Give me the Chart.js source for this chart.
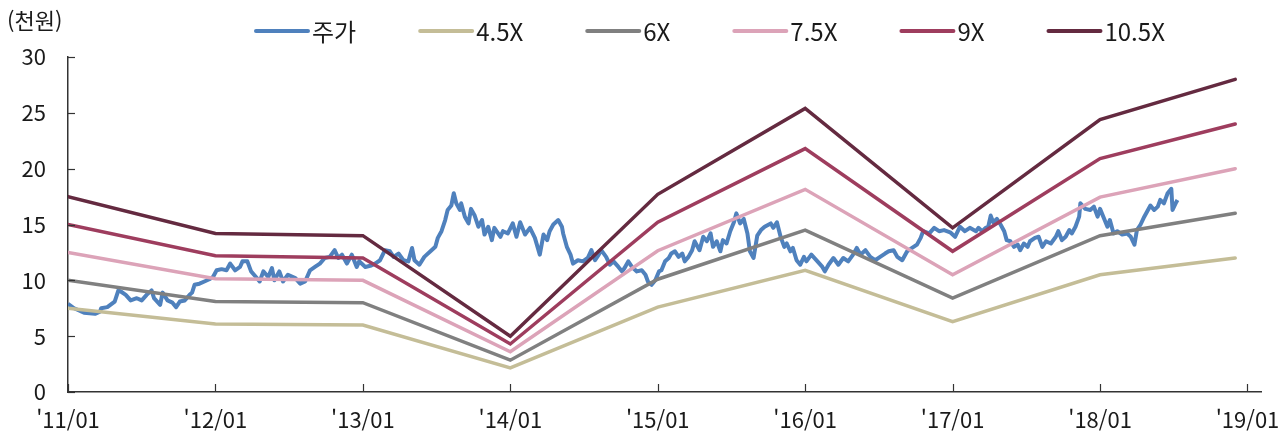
<!DOCTYPE html>
<html lang="ko">
<head>
<meta charset="utf-8">
<title>PER Band</title>
<script src="https://cdn.jsdelivr.net/npm/chart.js@4.4.1/dist/chart.umd.min.js"></script>
<style>
  html, body { margin: 0; padding: 0; background: #fff; }
  #wrap { width: 1285px; height: 438px; }
</style>
</head>
<body>
<div id="wrap"><canvas id="perChart" width="1285" height="438"></canvas></div>
<script>
// x값은 2011/01 기준 경과 개월 수
const tickMonths = [0, 12, 24, 36, 48, 60, 72, 84, 96];
const tickLabels = ["'11/01", "'12/01", "'13/01", "'14/01", "'15/01", "'16/01", "'17/01", "'18/01", "'19/01"];

// 주가 (천원)
const priceMonths = [
  0, 0.5, 1.3, 2.2, 2.6, 2.7, 3.2, 3.8, 4.1, 4.3,
  4.7, 5.1, 5.6, 6.0, 6.4, 6.8, 7.0, 7.5, 7.7, 8.1,
  8.5, 8.8, 9.1, 9.5, 9.9, 10.1, 10.3, 10.7, 11.1, 11.5,
  11.8, 12.1, 12.5, 12.9, 13.2, 13.6, 14.0, 14.2, 14.6, 14.9,
  15.3, 15.6, 15.9, 16.3, 16.6, 16.8, 17.2, 17.5, 17.9, 18.5,
  18.9, 19.3, 19.7, 20.1, 20.5, 20.9, 21.3, 21.7, 22.0, 22.3,
  22.7, 23.1, 23.5, 23.7, 24.2, 24.6, 25.0, 25.4, 25.8, 26.2,
  26.5, 26.9, 27.3, 27.7, 28.0, 28.2, 28.6, 29.0, 29.5, 29.9,
  30.1, 30.4, 30.7, 30.9, 31.2, 31.4, 31.6, 31.9, 32.0, 32.3,
  32.6, 32.8, 33.1, 33.4, 33.7, 33.9, 34.2, 34.5, 34.7, 35.2,
  35.4, 35.8, 36.2, 36.5, 36.8, 37.2, 37.6, 38.0, 38.4, 38.7,
  39.0, 39.2, 39.5, 39.9, 40.2, 40.3, 40.6, 40.9, 41.1, 41.5,
  41.9, 42.3, 42.6, 42.9, 43.2, 43.4, 43.8, 44.1, 44.4, 44.8,
  45.1, 45.3, 45.6, 45.9, 46.3, 46.7, 47.0, 47.2, 47.5, 47.8,
  48.1, 48.3, 48.6, 48.9, 49.1, 49.4, 49.7, 50.0, 50.2, 50.5,
  50.8, 51.0, 51.4, 51.7, 52.0, 52.3, 52.5, 52.8, 53.1, 53.3,
  53.6, 53.9, 54.2, 54.4, 54.7, 55.0, 55.3, 55.5, 55.8, 56.1,
  56.4, 56.7, 57.2, 57.4, 57.7, 58.0, 58.3, 58.5, 58.8, 59.0,
  59.3, 59.6, 59.9, 60.1, 60.5, 61.0, 61.4, 61.6, 61.9, 62.3,
  62.7, 63.1, 63.5, 63.9, 64.2, 64.5, 64.9, 65.3, 65.7, 66.1,
  66.5, 66.8, 67.2, 67.5, 67.9, 68.3, 68.7, 69.1, 69.4, 69.6,
  70.1, 70.5, 70.9, 71.3, 71.8, 72.2, 72.6, 73.0, 73.4, 73.9,
  74.1, 74.4, 74.7, 74.9, 75.1, 75.3, 75.6, 75.9, 76.2, 76.4,
  76.7, 77.0, 77.3, 77.5, 77.8, 78.1, 78.3, 78.7, 79.0, 79.3,
  79.6, 80.0, 80.4, 80.6, 80.9, 81.2, 81.5, 81.7, 82.0, 82.3,
  82.4, 82.8, 83.2, 83.5, 83.8, 84.0, 84.3, 84.6, 84.8, 85.1,
  85.4, 85.8, 86.2, 86.5, 86.8, 87.0, 87.3, 87.6, 87.8, 88.1,
  88.4, 88.7, 88.9, 89.2, 89.5, 89.8, 89.9, 90.2, 90.3
];
const priceValues = [
  7.9, 7.5, 7.1, 7.0, 7.2, 7.5, 7.6, 8.1, 9.1, 9.0,
  8.7, 8.2, 8.4, 8.2, 8.7, 9.1, 8.4, 7.8, 8.9, 8.2,
  8.0, 7.6, 8.1, 8.2, 8.7, 8.9, 9.6, 9.7, 9.9, 10.1,
  10.3, 10.9, 11.0, 10.9, 11.5, 10.9, 11.2, 11.7, 11.7, 10.8,
  10.3, 9.9, 10.8, 10.3, 11.1, 10.0, 10.8, 9.9, 10.5, 10.2,
  9.7, 9.9, 10.9, 11.2, 11.5, 12.0, 12.1, 12.7, 12.0, 12.3,
  11.5, 12.3, 11.2, 11.7, 11.2, 11.3, 11.5, 11.8, 12.7, 12.6,
  12.1, 12.4, 11.8, 11.7, 12.9, 11.8, 11.4, 12.1, 12.6, 13.0,
  13.8, 14.4, 15.4, 16.3, 16.7, 17.8, 16.9, 16.3, 16.9, 15.7,
  15.1, 16.4, 15.8, 14.8, 15.4, 14.1, 14.8, 13.6, 14.7, 13.9,
  14.4, 14.2, 15.1, 13.9, 15.2, 14.1, 14.7, 13.8, 12.3, 14.1,
  13.6, 14.4, 15.0, 15.4, 14.8, 14.2, 13.0, 12.3, 11.5, 11.8,
  11.7, 12.0, 12.7, 11.8, 12.3, 12.7, 12.1, 11.4, 11.7, 11.2,
  10.8, 11.1, 11.7, 11.2, 10.8, 10.9, 10.5, 9.9, 9.6, 10.0,
  10.8, 10.9, 11.7, 12.0, 12.4, 12.6, 12.1, 12.4, 11.7, 12.1,
  12.7, 13.5, 12.7, 13.9, 13.5, 14.2, 13.0, 13.5, 12.6, 13.6,
  13.3, 14.4, 15.2, 16.0, 15.1, 15.5, 14.2, 12.6, 12.0, 14.0,
  14.5, 14.8, 15.1, 14.7, 15.2, 13.9, 13.0, 13.3, 12.6, 12.9,
  11.8, 11.4, 12.1, 11.7, 12.3, 11.7, 11.2, 10.8, 11.4, 12.0,
  11.4, 12.0, 11.7, 12.3, 12.9, 12.3, 12.7, 12.1, 11.8, 12.1,
  12.4, 12.6, 12.7, 12.1, 11.8, 12.6, 12.9, 13.2, 13.8, 14.4,
  14.2, 14.7, 14.4, 14.5, 14.3, 13.9, 14.8, 14.4, 14.7, 14.4,
  14.7, 14.4, 14.7, 14.8, 15.8, 15.2, 15.5, 15.0, 14.4, 13.6,
  13.5, 13.0, 13.2, 12.7, 13.3, 13.0, 13.5, 13.8, 13.9, 13.0,
  13.5, 13.3, 13.9, 14.4, 13.6, 13.9, 14.5, 14.2, 14.8, 15.7,
  16.9, 16.4, 16.3, 16.6, 15.7, 16.4, 15.6, 14.8, 15.4, 14.2,
  14.4, 14.1, 14.2, 13.9, 13.2, 14.5, 15.0, 15.7, 16.1, 16.7,
  16.3, 16.6, 17.2, 16.9, 17.8, 18.2, 16.3, 17.0, 17.2
];

// PER 밴드 (천원), 매년 1월 + 2018/12
const bandMonths = [0, 12, 24, 36, 48, 60, 72, 84, 95];
const band45 = [7.5, 6.1, 6.0, 2.15, 7.6, 10.9, 6.3, 10.5, 12.0];
const band60 = [10.0, 8.1, 8.0, 2.85, 10.1, 14.5, 8.4, 14.0, 16.0];
const band75 = [12.5, 10.15, 10.0, 3.6, 12.65, 18.15, 10.5, 17.45, 20.0];
const band90 = [15.0, 12.2, 12.0, 4.3, 15.2, 21.8, 12.6, 20.9, 24.0];
const band105 = [17.5, 14.2, 14.0, 5.0, 17.7, 25.4, 14.7, 24.4, 28.0];

const FONT = '"Noto Sans CJK KR", "Noto Sans", sans-serif';
const textColor = '#1a1a1a';
const axisColor = '#333333';

function toPoints(xs, ys) {
    return xs.map((x, i) => ({ x: x, y: ys[i] }));
}

function bandDataset(label, values, color) {
    return {
        label: label,
        data: toPoints(bandMonths, values),
        borderColor: color,
        backgroundColor: color,
        borderWidth: 3.5,
        borderCapStyle: 'round',
        pointRadius: 0,
        tension: 0,
        order: 0
    };
}

// 축 안쪽 눈금, 단위, 범례
const extras = {
    id: 'extras',
    afterDraw(chart) {
        const { ctx, scales: { x, y } } = chart;
        ctx.save();
        ctx.strokeStyle = axisColor;
        ctx.lineWidth = 1.2;
        y.ticks.forEach(t => {
            const py = Math.round(y.getPixelForValue(t.value)) + 0.5;
            ctx.beginPath();
            ctx.moveTo(y.right, py);
            ctx.lineTo(y.right + 7, py);
            ctx.stroke();
        });
        x.ticks.forEach(t => {
            const px = Math.round(x.getPixelForValue(t.value)) + 0.5;
            ctx.beginPath();
            ctx.moveTo(px, x.top);
            ctx.lineTo(px, x.top - 8);
            ctx.stroke();
        });

        ctx.fillStyle = textColor;
        ctx.font = '22px ' + FONT;
        ctx.textBaseline = 'middle';
        ctx.textAlign = 'left';
        ctx.fillText('(천원)', 7, 21);

        // 범례
        let lx = 254;
        const ly = 31;
        ctx.font = '24px ' + FONT;
        chart.data.datasets.forEach(ds => {
            ctx.strokeStyle = ds.borderColor;
            ctx.lineWidth = 4;
            ctx.lineCap = 'round';
            ctx.beginPath();
            ctx.moveTo(lx + 2, ly);
            ctx.lineTo(lx + 54, ly);
            ctx.stroke();
            ctx.fillStyle = textColor;
            ctx.fillText(ds.label, lx + 58, ly + 1);
            lx += 58 + ctx.measureText(ds.label).width + 62;
        });
        ctx.restore();
    }
};

const ctx = document.getElementById('perChart').getContext('2d');
new Chart(ctx, {
    type: 'line',
    data: {
        datasets: [
            {
                label: '주가',
                data: toPoints(priceMonths, priceValues),
                borderColor: '#4F81BD',
                backgroundColor: '#4F81BD',
                borderWidth: 4,
                borderJoinStyle: 'round',
                pointRadius: 0,
                tension: 0,
                order: 1
            },
            bandDataset('4.5X', band45, '#C4BD97'),
            bandDataset('6X', band60, '#808080'),
            bandDataset('7.5X', band75, '#DCA3B8'),
            bandDataset('9X', band90, '#9E3D5E'),
            bandDataset('10.5X', band105, '#642A40')
        ]
    },
    options: {
        responsive: false,
        animation: false,
        layout: {
            padding: { top: 57, right: 24, bottom: 6, left: 8 }
        },
        scales: {
            x: {
                type: 'linear',
                min: 0,
                max: 97.1,
                afterBuildTicks: axis => {
                    axis.ticks = tickMonths.map(v => ({ value: v }));
                },
                afterFit: axis => {
                    axis.height = 40;
                    axis.paddingLeft = 0;
                    axis.paddingRight = 0;
                },
                grid: { display: false, drawTicks: false },
                border: { display: true, color: axisColor, width: 1.5 },
                ticks: {
                    padding: 14,
                    color: textColor,
                    maxRotation: 0,
                    autoSkip: false,
                    font: { family: FONT, size: 22 },
                    callback: value => tickLabels[tickMonths.indexOf(value)]
                }
            },
            y: {
                min: 0,
                max: 30,
                afterFit: axis => { axis.width = 60; },
                grid: { display: false, drawTicks: false },
                border: { display: true, color: axisColor, width: 1.5 },
                ticks: {
                    stepSize: 5,
                    padding: 22,
                    color: textColor,
                    font: { family: FONT, size: 22 }
                }
            }
        },
        plugins: {
            legend: { display: false },
            tooltip: { enabled: false }
        }
    },
    plugins: [extras]
});
</script>
</body>
</html>
